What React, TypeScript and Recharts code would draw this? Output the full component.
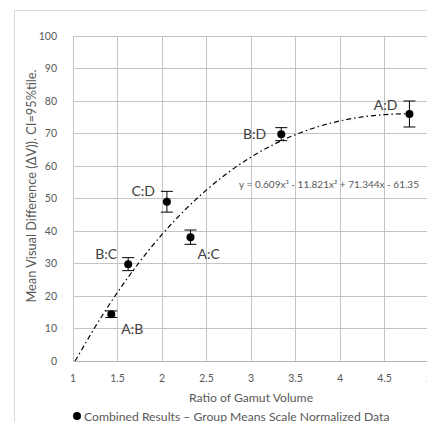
import React from "react";
import {
  ComposedChart,
  XAxis,
  YAxis,
  CartesianGrid,
  Scatter,
  Line,
  ErrorBar,
} from "recharts";

const pairNames = ["A:B", "B:C", "C:D", "A:C", "B:D", "A:D"];
const gamutRatios = [1.43, 1.62, 2.055, 2.32, 3.34, 4.78];
const meanDiffs = [14.4, 29.8, 49.0, 38.1, 69.8, 76.0];
const ciErrors = [1.0, 2.0, 3.2, 2.2, 2.0, 4.0];

const trendX = [1.023, 1.05, 1.25, 1.5, 1.75, 2, 2.25, 2.5, 2.75, 3, 3.25, 3.5, 3.75, 4, 4.25, 4.5, 4.78];
const trendY = [0, 1.23, 10.55, 21.12, 30.56, 38.93, 46.27, 52.64, 58.12, 62.74, 66.56, 69.66, 72.07, 73.87, 75.1, 75.82, 76.1];

const xTicks = [1, 1.5, 2, 2.5, 3, 3.5, 4, 4.5, 5];
const yTicks = [0, 10, 20, 30, 40, 50, 60, 70, 80, 90, 100];

const points = pairNames.map((name, i) => ({
  name,
  x: gamutRatios[i],
  y: meanDiffs[i],
  err: ciErrors[i],
}));
const trend = trendX.map((x, i) => ({ x, y: trendY[i] }));

const labelOffsets: Record<string, { dx: number; dy: number; anchor: string }> = {
  "A:D": { dx: -12, dy: -10, anchor: "end" },
  "B:D": { dx: -15, dy: -1, anchor: "end" },
  "C:D": { dx: -12, dy: -11, anchor: "end" },
  "B:C": { dx: -11, dy: -11, anchor: "end" },
  "A:C": { dx: 7, dy: 16, anchor: "start" },
  "A:B": { dx: 10, dy: 14, anchor: "start" },
};

const FONT = "Lato, 'Open Sans', sans-serif";

const PointShape = (props: any) => {
  const { cx, cy, payload } = props;
  const o = labelOffsets[payload.name];
  return (
    <g>
      <circle cx={cx} cy={cy} r={4} fill="#000" />
      <text
        x={cx + o.dx}
        y={cy + o.dy}
        textAnchor={o.anchor as any}
        dominantBaseline="central"
        fontSize={14}
        fill="#404040"
        fontFamily={FONT}
      >
        {payload.name}
      </text>
    </g>
  );
};

const css = `
.recharts-cartesian-grid line { shape-rendering: crispEdges; }
.recharts-cartesian-axis-line { shape-rendering: crispEdges; }
`;

export default function App() {
  return (
    <div style={{ position: "relative", margin: -8, width: 435, height: 430, background: "#fff", overflow: "hidden" }}>
      <style>{css}</style>
      <div
        style={{
          position: "absolute",
          left: 14,
          top: 10,
          width: 440,
          height: 440,
          border: "1px solid #d9d9d9",
          boxSizing: "border-box",
          pointerEvents: "none",
        }}
      />
      <div style={{ position: "absolute", left: 0, top: 0 }}>
        <ComposedChart
          width={435}
          height={430}
          data={trend}
          margin={{ top: 36, right: 6, bottom: 39, left: 23 }}
        >
          <CartesianGrid stroke="#c4c4c4" strokeWidth={1} />
          <XAxis
            type="number"
            dataKey="x"
            domain={[1, 5]}
            ticks={xTicks}
            height={30}
            stroke="#b5b5b5"
            axisLine={{ stroke: "#b5b5b5" }}
            tickLine={false}
            tick={{ fontSize: 10.5, fill: "#595959", fontFamily: FONT }}
            tickMargin={8}
          />
          <YAxis
            type="number"
            domain={[0, 100]}
            ticks={yTicks}
            width={50}
            axisLine={false}
            tickLine={false}
            tick={{ fontSize: 10.5, fill: "#595959", fontFamily: FONT }}
            tickMargin={10}
          />
          <Line
            dataKey="y"
            type="monotone"
            stroke="#000"
            strokeWidth={1.2}
            strokeDasharray="5 3 1.5 3"
            dot={false}
            activeDot={false}
            isAnimationActive={false}
          />
          <Scatter data={points} dataKey="y" shape={PointShape} isAnimationActive={false}>
            <ErrorBar dataKey="err" direction="y" width={6} stroke="#000" strokeWidth={1} />
          </Scatter>
        </ComposedChart>
      </div>
      <svg
        width={435}
        height={430}
        style={{ position: "absolute", left: 0, top: 0, pointerEvents: "none" }}
        fontFamily={FONT}
      >
        <text
          x={329}
          y={184}
          textAnchor="middle"
          dominantBaseline="central"
          fontSize={10}
          fill="#595959"
        >
          y = 0.609x³ - 11.821x² + 71.344x - 61.35
        </text>
        <text
          transform="translate(31,186) rotate(-90)"
          textAnchor="middle"
          dominantBaseline="central"
          fontSize={12.8}
          fill="#595959"
        >
          Mean  Visual Difference (ΔV)). CI=95%tile.
        </text>
        <text x={251} y={397} textAnchor="middle" dominantBaseline="central" fontSize={12.2} fill="#595959">
          Ratio of Gamut Volume
        </text>
        <circle cx={77} cy={416} r={4} fill="#000" />
        <text x={84} y={416} dominantBaseline="central" fontSize={12.2} fill="#595959">
          Combined Results – Group Means Scale Normalized Data
        </text>
      </svg>
    </div>
  );
}
